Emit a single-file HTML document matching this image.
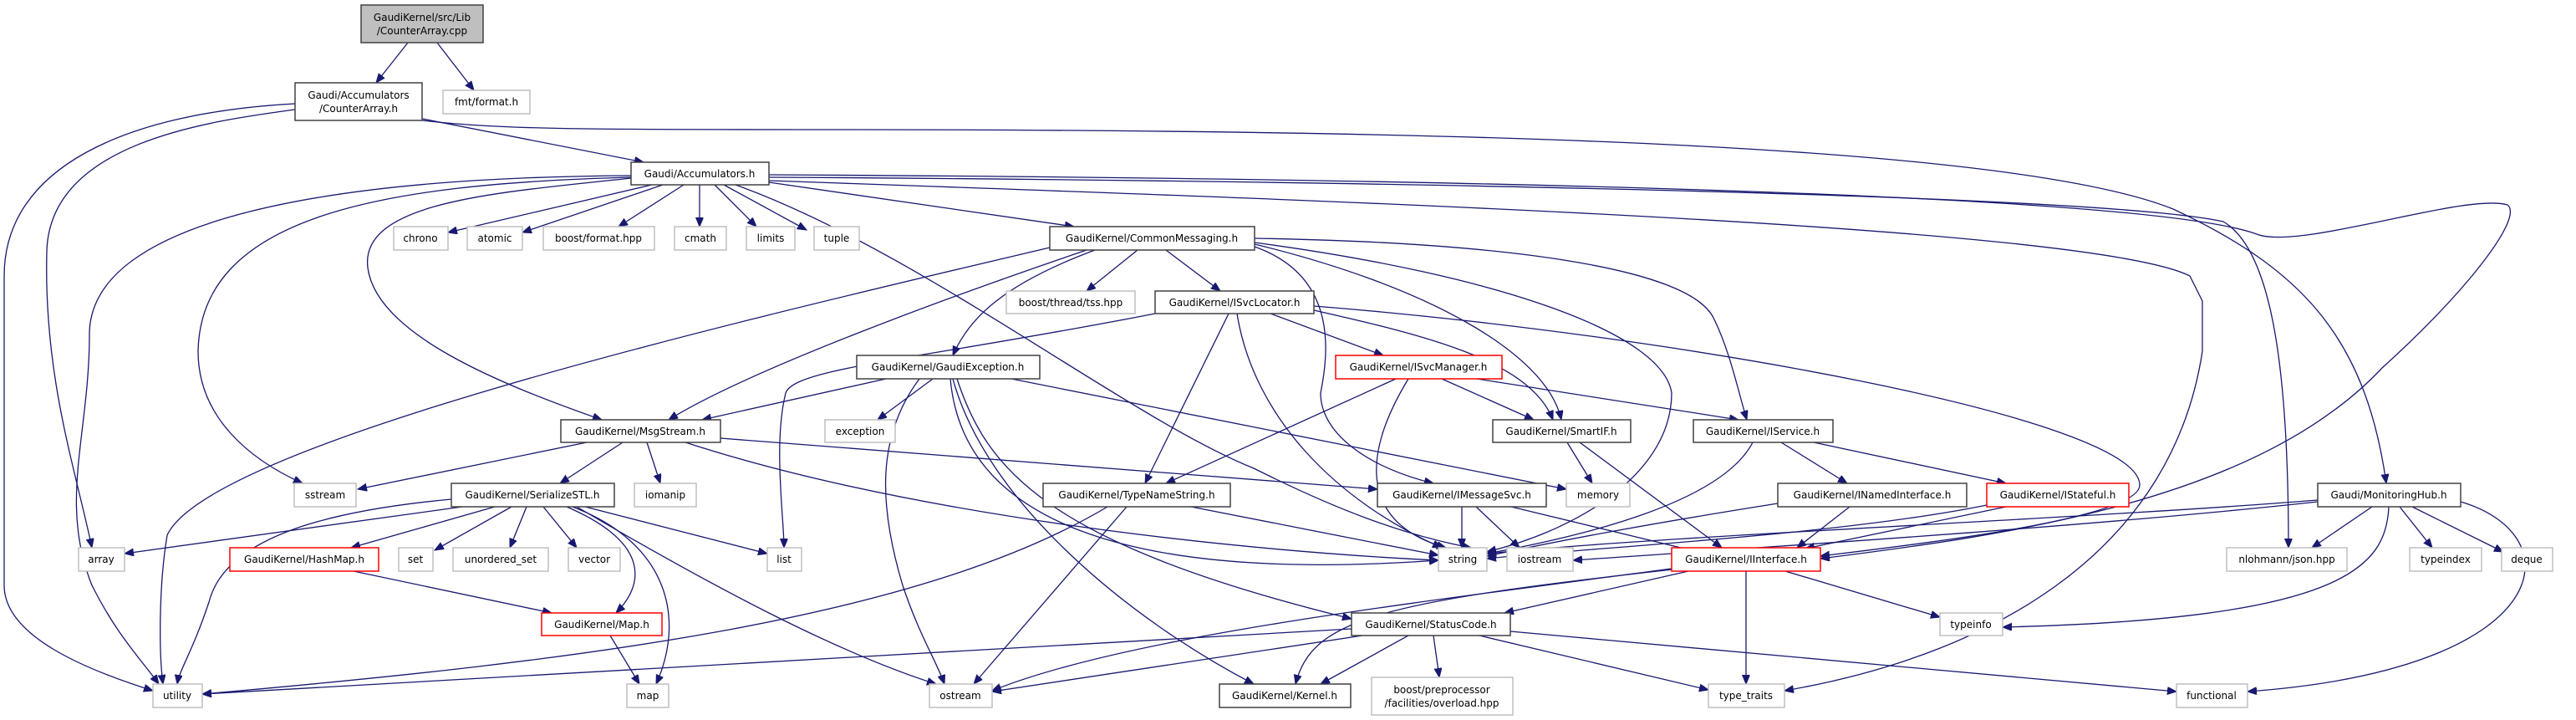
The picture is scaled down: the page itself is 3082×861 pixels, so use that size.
<!DOCTYPE html>
<html><head><meta charset="utf-8"><style>
html,body{margin:0;padding:0;background:#fff;width:3082px;height:861px;overflow:hidden}
svg{display:block}
text{font-family:"DejaVu Sans","Liberation Sans",sans-serif;font-size:12px;fill:#000;text-anchor:middle}
.n{fill:#fff;stroke:#404040;stroke-width:1.5}
.g{fill:#fff;stroke:#bfbfbf;stroke-width:1.5}
.r{fill:#fff;stroke:#ff0000;stroke-width:1.5}
.e{fill:none;stroke:#191970;stroke-width:1.3;marker-end:url(#a)}
</style></head><body>
<svg width="3082" height="861" viewBox="0 0 3082 861" xmlns="http://www.w3.org/2000/svg">
<defs><marker id="a" markerUnits="userSpaceOnUse" markerWidth="12" markerHeight="10" refX="11" refY="4.5" orient="auto"><path d="M0,0 L11,4.5 L0,9 z" fill="#191970" stroke="#191970"/></marker></defs>
<g>
<path class="e" d="M488 51 L450 99"/>
<path class="e" d="M523 51 L567 108"/>
<path class="e" d="M505 142 L770 194"/>
<path class="e" d="M353 131 C250 145 60 170 56 300 C52 450 90 560 110 655"/>
<path class="e" d="M353 124 C150 135 5 200 5 330 L5 700 C5 760 100 800 183 826"/>
<path class="e" d="M505 144 C600 155 700 155 1000 155 C1700 155 2400 170 2600 250 C2750 320 2830 400 2855 578"/>
<path class="e" d="M780 221 L536 278"/>
<path class="e" d="M793 221 L625 278"/>
<path class="e" d="M818 221 L740 271"/>
<path class="e" d="M837 221 L837 271"/>
<path class="e" d="M855 221 L905 271"/>
<path class="e" d="M866 221 L965 275"/>
<path class="e" d="M920 218 L1285 271"/>
<path class="e" d="M755 213 C600 230 430 240 440 320 C450 400 600 460 720 502"/>
<path class="e" d="M755 212 C450 220 240 260 237 420 C237 500 300 550 362 578"/>
<path class="e" d="M755 210 C400 212 107 260 107 400 C107 520 70 600 110 700 C140 760 170 790 190 818"/>
<path class="e" d="M880 221 C1100 300 1350 500 1500 560 C1600 610 1680 640 1760 655"/>
<path class="e" d="M920 212 C1500 215 2500 230 2660 265 C2720 300 2738 450 2738 655"/>
<path class="e" d="M920 216 C1600 240 2500 270 2620 330 L2635 360 L2635 420 C2600 650 2400 780 2135 826"/>
<path class="e" d="M920 209 C1500 212 2550 225 2700 280 C2750 300 2950 230 3000 245 C3020 260 2950 350 2850 440 C2700 600 2400 640 2178 668"/>
<path class="e" d="M1256 296 C900 380 250 530 200 640 C190 700 190 780 195 818"/>
<path class="e" d="M1300 299 C1150 350 900 440 800 502"/>
<path class="e" d="M1310 299 C1200 340 1160 380 1140 425"/>
<path class="e" d="M1361 299 L1300 348"/>
<path class="e" d="M1395 299 L1460 348"/>
<path class="e" d="M1501 295 C1600 330 1590 420 1580 470 C1580 520 1640 560 1715 578"/>
<path class="e" d="M1501 292 C1700 340 1850 420 1868 502"/>
<path class="e" d="M1501 290 C1800 330 1990 400 2000 470 C2000 560 1900 630 1779 660"/>
<path class="e" d="M1501 285 C1800 290 2020 320 2050 380 C2070 420 2080 470 2090 502"/>
<path class="e" d="M1382 375 C1100 430 950 440 940 470 C925 530 938 620 938 655"/>
<path class="e" d="M1470 375 L1370 578"/>
<path class="e" d="M1480 375 C1500 500 1600 600 1725 655"/>
<path class="e" d="M1520 375 L1655 425"/>
<path class="e" d="M1572 371 C1700 400 1830 430 1858 502"/>
<path class="e" d="M1572 366 C2000 400 2560 500 2560 580 C2560 620 2300 650 2178 665"/>
<path class="e" d="M1060 453 L840 502"/>
<path class="e" d="M1116 453 L1050 502"/>
<path class="e" d="M1100 453 C1050 520 1050 600 1080 700 C1100 760 1120 790 1130 818"/>
<path class="e" d="M1137 453 C1150 600 1300 700 1721 670"/>
<path class="e" d="M1145 453 C1180 560 1250 650 1617 740"/>
<path class="e" d="M1140 453 C1180 600 1350 740 1500 818"/>
<path class="e" d="M1210 453 L1874 585"/>
<path class="e" d="M1670 453 L1395 578"/>
<path class="e" d="M1685 453 C1620 560 1640 630 1730 655"/>
<path class="e" d="M1725 453 L1835 502"/>
<path class="e" d="M1767 453 L2080 502"/>
<path class="e" d="M702 529 L428 585"/>
<path class="e" d="M745 529 L670 578"/>
<path class="e" d="M774 529 L790 578"/>
<path class="e" d="M820 529 C1100 620 1500 660 1721 670"/>
<path class="e" d="M862 524 L1648 585"/>
<path class="e" d="M1875 529 L1905 578"/>
<path class="e" d="M1890 529 L2060 655"/>
<path class="e" d="M2097 529 C2060 600 1900 640 1779 662"/>
<path class="e" d="M2131 529 L2210 578"/>
<path class="e" d="M2170 529 L2400 578"/>
<path class="e" d="M540 597 C400 610 270 640 250 720 C230 780 215 800 212 818"/>
<path class="e" d="M553 606 L149 662"/>
<path class="e" d="M592 606 L420 655"/>
<path class="e" d="M612 606 L520 658"/>
<path class="e" d="M630 606 L610 655"/>
<path class="e" d="M650 606 L690 655"/>
<path class="e" d="M678 606 C780 650 770 700 737 733"/>
<path class="e" d="M685 606 C800 650 820 740 785 818"/>
<path class="e" d="M700 606 L918 662"/>
<path class="e" d="M690 606 C850 700 1000 780 1120 818"/>
<path class="e" d="M423 683 L660 733"/>
<path class="e" d="M730 760 L765 818"/>
<path class="e" d="M1425 606 L1721 664"/>
<path class="e" d="M1348 606 L1165 818"/>
<path class="e" d="M1325 606 C1100 740 700 790 242 830"/>
<path class="e" d="M1749 606 L1749 655"/>
<path class="e" d="M1766 606 L1818 655"/>
<path class="e" d="M1808 606 L2040 662"/>
<path class="e" d="M2213 606 L2150 655"/>
<path class="e" d="M2127 602 C1950 630 1850 650 1779 665"/>
<path class="e" d="M2400 606 L2160 656"/>
<path class="e" d="M2377 604 C2200 640 1900 655 1779 668"/>
<path class="e" d="M2773 598 C2500 620 2000 640 1779 662"/>
<path class="e" d="M2773 600 C2500 630 2100 655 1882 670"/>
<path class="e" d="M2838 606 L2766 655"/>
<path class="e" d="M2858 606 C2855 680 2800 740 2396 750"/>
<path class="e" d="M2871 606 L2910 655"/>
<path class="e" d="M2886 606 L2995 660"/>
<path class="e" d="M2944 600 C3080 640 3060 800 2689 827"/>
<path class="e" d="M2000 680 C1700 720 1350 760 1187 826"/>
<path class="e" d="M2020 683 L1800 733"/>
<path class="e" d="M2136 683 L2321 738"/>
<path class="e" d="M2089 683 L2089 818"/>
<path class="e" d="M2010 680 C1650 720 1570 740 1550 818"/>
<path class="e" d="M1617 752 C1100 780 600 810 242 830"/>
<path class="e" d="M1630 760 L1187 827"/>
<path class="e" d="M1685 760 L1580 818"/>
<path class="e" d="M1715 760 L1722 810"/>
<path class="e" d="M1770 760 L2044 825"/>
<path class="e" d="M1807 755 L2604 827"/>
</g>
<g>
<rect x="432" y="6" width="146" height="45" fill="#bfbfbf" stroke="#404040" stroke-width="1.5"/>
<text x="505" y="25">GaudiKernel/src/Lib</text><text x="505" y="41">/CounterArray.cpp</text>
<rect class="n" x="353" y="99" width="152" height="45"/>
<text x="429" y="118">Gaudi/Accumulators</text><text x="429" y="134">/CounterArray.h</text>
<rect class="g" x="530" y="108" width="104" height="28"/><text x="582" y="126">fmt/format.h</text>
<rect class="n" x="755" y="194" width="165" height="27"/><text x="837" y="212">Gaudi/Accumulators.h</text>
<rect class="g" x="471" y="271" width="65" height="28"/><text x="503" y="289">chrono</text>
<rect class="g" x="559" y="271" width="66" height="28"/><text x="592" y="289">atomic</text>
<rect class="g" x="650" y="271" width="133" height="28"/><text x="716" y="289">boost/format.hpp</text>
<rect class="g" x="807" y="271" width="62" height="28"/><text x="838" y="289">cmath</text>
<rect class="g" x="893" y="271" width="58" height="28"/><text x="922" y="289">limits</text>
<rect class="g" x="974" y="271" width="54" height="28"/><text x="1001" y="289">tuple</text>
<rect class="n" x="1256" y="271" width="245" height="28"/><text x="1378" y="289">GaudiKernel/CommonMessaging.h</text>
<rect class="g" x="1204" y="348" width="154" height="27"/><text x="1281" y="366">boost/thread/tss.hpp</text>
<rect class="n" x="1382" y="348" width="190" height="27"/><text x="1477" y="366">GaudiKernel/ISvcLocator.h</text>
<rect class="n" x="1025" y="425" width="219" height="28"/><text x="1134" y="443">GaudiKernel/GaudiException.h</text>
<rect class="r" x="1598" y="425" width="199" height="28"/><text x="1697" y="443">GaudiKernel/ISvcManager.h</text>
<rect class="n" x="671" y="502" width="191" height="27"/><text x="766" y="520">GaudiKernel/MsgStream.h</text>
<rect class="g" x="987" y="502" width="84" height="27"/><text x="1029" y="520">exception</text>
<rect class="n" x="1786" y="502" width="165" height="27"/><text x="1868" y="520">GaudiKernel/SmartIF.h</text>
<rect class="n" x="2026" y="502" width="167" height="27"/><text x="2109" y="520">GaudiKernel/IService.h</text>
<rect class="g" x="352" y="578" width="74" height="28"/><text x="389" y="596">sstream</text>
<rect class="n" x="540" y="578" width="195" height="28"/><text x="637" y="596">GaudiKernel/SerializeSTL.h</text>
<rect class="g" x="759" y="578" width="74" height="28"/><text x="796" y="596">iomanip</text>
<rect class="n" x="1248" y="578" width="224" height="28"/><text x="1360" y="596">GaudiKernel/TypeNameString.h</text>
<rect class="n" x="1648" y="578" width="202" height="28"/><text x="1749" y="596">GaudiKernel/IMessageSvc.h</text>
<rect class="g" x="1874" y="578" width="76" height="28"/><text x="1912" y="596">memory</text>
<rect class="n" x="2127" y="578" width="226" height="28"/><text x="2240" y="596">GaudiKernel/INamedInterface.h</text>
<rect class="r" x="2377" y="578" width="170" height="28"/><text x="2462" y="596">GaudiKernel/IStateful.h</text>
<rect class="n" x="2773" y="578" width="171" height="28"/><text x="2858" y="596">Gaudi/MonitoringHub.h</text>
<rect class="g" x="94" y="655" width="55" height="28"/><text x="121" y="673">array</text>
<rect class="r" x="275" y="655" width="178" height="28"/><text x="364" y="673">GaudiKernel/HashMap.h</text>
<rect class="g" x="477" y="655" width="41" height="28"/><text x="497" y="673">set</text>
<rect class="g" x="542" y="655" width="114" height="28"/><text x="599" y="673">unordered_set</text>
<rect class="g" x="680" y="655" width="62" height="28"/><text x="711" y="673">vector</text>
<rect class="g" x="918" y="655" width="41" height="28"/><text x="938" y="673">list</text>
<rect class="g" x="1721" y="655" width="58" height="28"/><text x="1750" y="673">string</text>
<rect class="g" x="1803" y="655" width="79" height="28"/><text x="1842" y="673">iostream</text>
<rect class="r" x="2000" y="655" width="178" height="28"/><text x="2089" y="673">GaudiKernel/IInterface.h</text>
<rect class="g" x="2664" y="655" width="144" height="28"/><text x="2736" y="673">nlohmann/json.hpp</text>
<rect class="g" x="2883" y="655" width="86" height="28"/><text x="2926" y="673">typeindex</text>
<rect class="g" x="2993" y="655" width="61" height="28"/><text x="3023" y="673">deque</text>
<rect class="r" x="648" y="733" width="144" height="27"/><text x="720" y="751">GaudiKernel/Map.h</text>
<rect class="n" x="1617" y="733" width="190" height="27"/><text x="1712" y="751">GaudiKernel/StatusCode.h</text>
<rect class="g" x="2321" y="733" width="75" height="27"/><text x="2358" y="751">typeinfo</text>
<rect class="g" x="183" y="818" width="59" height="28"/><text x="212" y="836">utility</text>
<rect class="g" x="750" y="818" width="50" height="28"/><text x="775" y="836">map</text>
<rect class="g" x="1112" y="818" width="75" height="28"/><text x="1149" y="836">ostream</text>
<rect class="n" x="1459" y="818" width="157" height="28"/><text x="1537" y="836">GaudiKernel/Kernel.h</text>
<rect class="g" x="1641" y="810" width="169" height="45"/>
<text x="1725" y="829">boost/preprocessor</text><text x="1725" y="845">/facilities/overload.hpp</text>
<rect class="g" x="2044" y="818" width="91" height="28"/><text x="2089" y="836">type_traits</text>
<rect class="g" x="2604" y="818" width="85" height="28"/><text x="2646" y="836">functional</text>
</g>
</svg>
</body></html>
